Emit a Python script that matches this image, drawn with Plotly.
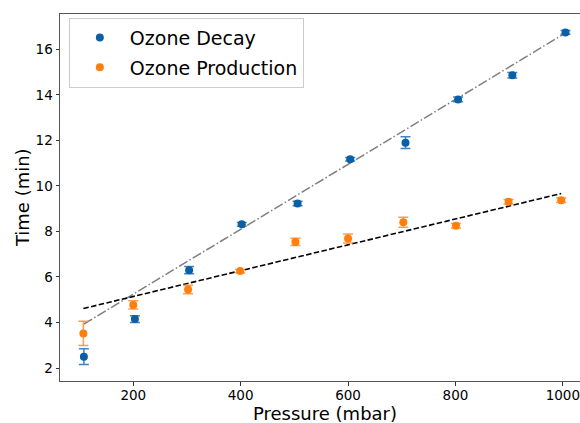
import numpy as np
import plotly.graph_objects as go

# ---- data ----
decay_pressure = [108, 203, 304, 402, 506, 604, 707, 805, 906, 1005]
decay_time = [2.50, 4.15, 6.30, 8.31, 9.23, 11.17, 11.90, 13.80, 14.86, 16.74]
decay_err = [0.35, 0.15, 0.16, 0.08, 0.10, 0.08, 0.26, 0.10, 0.12, 0.08]

prod_pressure = [107, 200, 302, 399, 502, 600, 703, 801, 899, 997]
prod_time = [3.52, 4.77, 5.45, 6.26, 7.54, 7.69, 8.40, 8.25, 9.30, 9.37]
prod_err = [0.53, 0.18, 0.19, 0.07, 0.16, 0.20, 0.22, 0.10, 0.10, 0.10]

# linear fit parameters (slope, intercept) as drawn in the reference
decay_fit = [0.01425, 2.395]
prod_fit = [0.005674, 4.007]

x_ticks = [200, 400, 600, 800, 1000]
y_ticks = [2, 4, 6, 8, 10, 12, 14, 16]
x_title = "Pressure (mbar)"
y_title = "Time (min)"

FONT = "DejaVu Sans"
BLUE = "#0b5fa5"
ORANGE = "#ff7f0e"

fig = go.Figure()

def fit_line(xs, p):
    xx = np.array([min(xs), max(xs)], dtype=float)
    return xx, p[0] * xx + p[1]

fx, fy = fit_line(decay_pressure, decay_fit)
fig.add_trace(go.Scatter(x=fx, y=fy, mode="lines", showlegend=False,
                         line=dict(color="#7f7f7f", width=1.5, dash="9.6px,2.4px,1.5px,2.4px")))
fx, fy = fit_line(prod_pressure, prod_fit)
fig.add_trace(go.Scatter(x=fx, y=fy, mode="lines", showlegend=False,
                         line=dict(color="black", width=1.6, dash="5.5px,2.4px")))

fig.add_trace(go.Scatter(
    x=decay_pressure, y=decay_time, mode="markers", name="Ozone Decay",
    legendgroup="a",
    marker=dict(color=BLUE, size=8),
    error_y=dict(type="data", array=decay_err, visible=True,
                 color="rgba(31,110,190,0.85)", thickness=1.5, width=5)))
fig.add_trace(go.Scatter(
    x=prod_pressure, y=prod_time, mode="markers", name="Ozone Production",
    legendgroup="b",
    marker=dict(color=ORANGE, size=8),
    error_y=dict(type="data", array=prod_err, visible=True,
                 color="rgba(255,140,40,0.85)", thickness=1.5, width=5)))

axis_common = dict(
    showgrid=False, zeroline=False, showline=True, linecolor="#555555", linewidth=1,
    ticks="outside", ticklen=3.5, tickwidth=1, tickcolor="#333333",
    tickfont=dict(family=FONT, size=13.5, color="black"),
    automargin=False,
)

fig.update_layout(
    width=580, height=423,
    margin=dict(l=60, r=0, t=14, b=42),
    paper_bgcolor="white", plot_bgcolor="white",
    font=dict(family=FONT, color="black"),
    xaxis=dict(range=[63.5, 1032], tickvals=x_ticks, mirror=True,
               ticklabelstandoff=-2, **axis_common),
    yaxis=dict(range=[1.43, 17.55], tickvals=y_ticks, **axis_common),
    legend=dict(x=0.017, y=0.99, xanchor="left", yanchor="top",
                bgcolor="rgba(255,255,255,0.8)", bordercolor="#cccccc", borderwidth=1,
                font=dict(family=FONT, size=19), itemwidth=50, tracegroupgap=2),
    annotations=[
        dict(text=x_title, xref="paper", yref="paper", x=0.5087, y=-0.0872,
             xanchor="center", yanchor="middle", showarrow=False,
             font=dict(family=FONT, size=18, color="black")),
        dict(text=y_title, xref="paper", yref="paper", x=-0.0731, y=0.501,
             xanchor="center", yanchor="middle", showarrow=False, textangle=-90,
             font=dict(family=FONT, size=18, color="black")),
    ],
)

fig.write_html("out.html")
